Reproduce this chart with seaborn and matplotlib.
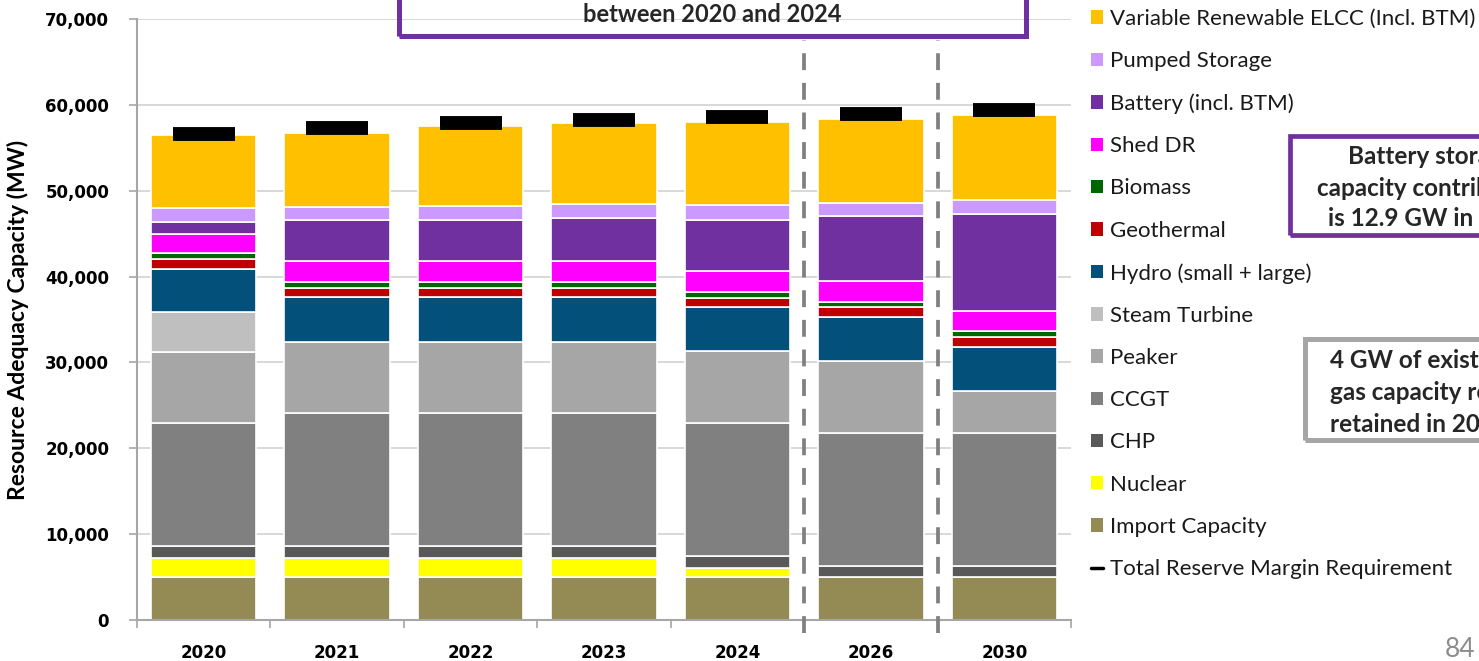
import numpy as np
import pandas as pd
import seaborn as sns
import matplotlib.pyplot as plt
from matplotlib.patches import Patch, Rectangle
from matplotlib.lines import Line2D
from matplotlib.ticker import FuncFormatter, FixedLocator

# resource adequacy capacity by year (MW), bottom of the stack first
years = ["2020", "2021", "2022", "2023", "2024", "2026", "2030"]
import_cap = [5000, 5000, 5000, 5000, 5000, 5000, 5000]
nuclear = [2250, 2250, 2250, 2250, 1090, 0, 0]
chp = [1400, 1400, 1400, 1400, 1400, 1320, 1320]
ccgt = [14250, 15480, 15480, 15480, 15480, 15480, 15480]
peaker = [8330, 8270, 8270, 8270, 8340, 8350, 4860]
steam_turbine = [4600, 0, 0, 0, 0, 0, 0]
hydro = [5080, 5240, 5240, 5240, 5160, 5160, 5150]
geothermal = [1160, 1080, 1080, 1040, 1050, 1090, 1130]
biomass = [620, 620, 620, 660, 660, 620, 700]
shed_dr = [2220, 2450, 2450, 2450, 2440, 2440, 2360]
battery = [1470, 4770, 4850, 5080, 6020, 7570, 11260]
pumped_storage = [1550, 1550, 1560, 1630, 1670, 1590, 1630]
variable_re = [8530, 8620, 9300, 9390, 9690, 9780, 9970]
reserve_req = [56660, 57250, 57830, 58220, 58530, 58920, 59420]

series = [
    ("Import Capacity", import_cap, "#948A54"),
    ("Nuclear", nuclear, "#FFFF00"),
    ("CHP", chp, "#595959"),
    ("CCGT", ccgt, "#808080"),
    ("Peaker", peaker, "#A6A6A6"),
    ("Steam Turbine", steam_turbine, "#BFBFBF"),
    ("Hydro (small + large)", hydro, "#03507A"),
    ("Geothermal", geothermal, "#C00000"),
    ("Biomass", biomass, "#006600"),
    ("Shed DR", shed_dr, "#FF00FF"),
    ("Battery (incl. BTM)", battery, "#7030A0"),
    ("Pumped Storage", pumped_storage, "#CC99FF"),
    ("Variable Renewable ELCC (Incl. BTM)", variable_re, "#FFC000"),
]

sns.set_theme(style="white")
plt.rcParams['font.family'] = ['Lato', 'DejaVu Sans']

W, H = 1479, 661
fig = plt.figure(figsize=(W / 100, H / 100), dpi=100)
ax = fig.add_axes([137 / W, 41 / H, (1071 - 137) / W, (620 - 19) / H])

bottom = np.zeros(len(years))
for name, vals, color in series:
    sns.barplot(x=years, y=vals, bottom=bottom, color=color, saturation=1,
                width=0.79, edgecolor="white", linewidth=1.2, errorbar=None, ax=ax)
    bottom += np.array(vals)

# total reserve margin requirement marks
ax.plot(np.arange(len(years)), reserve_req, ls="none", marker="_", ms=45, mew=10,
        color="black", zorder=5)

# dashed separators
ax.vlines([4.5, 5.5], -1500, 67600, colors="#808080", lw=2.7,
          linestyles=(0, (4.5, 3.4)), clip_on=False, zorder=6)

ax.set_xlim(-0.5, 6.5)
ax.set_ylim(0, 70000)
ax.set_yticks(range(0, 70001, 10000))
ax.yaxis.set_major_formatter(FuncFormatter(lambda v, p: f"{v:,.0f}"))
ax.yaxis.grid(True, color="#D6D6D6", lw=1.3)
ax.set_axisbelow(True)
ax.xaxis.set_minor_locator(FixedLocator(np.arange(-0.5, 7, 1)))
ax.tick_params(axis="x", which="major", length=0, pad=17)
ax.tick_params(axis="x", which="minor", length=6, width=1.2, color="#A6A6A6", direction="out", bottom=True)
ax.tick_params(axis="y", length=6, width=1.2, color="#A6A6A6", direction="out", left=True, pad=14)
for lab in ax.get_xticklabels() + ax.get_yticklabels():
    lab.set_fontfamily("DejaVu Sans")
    lab.set_fontweight("bold")
    lab.set_fontsize(12)
    lab.set_color("black")

for s in ["top", "right"]:
    ax.spines[s].set_visible(False)
for s in ["left", "bottom"]:
    ax.spines[s].set_color("#A6A6A6")
    ax.spines[s].set_linewidth(1.5)

ax.set_xlabel("")
ax.set_ylabel("Resource Adequacy Capacity (MW)", fontsize=16.5, fontweight="bold", color="black")
ax.yaxis.set_label_coords(-0.1156, 0.5)

# legend, top to bottom
handles = [Patch(facecolor=c, edgecolor="none") for _, _, c in series[::-1]]
labels = [n for n, _, _ in series[::-1]]
handles.append(Line2D([], [], color="black", lw=2.5))
labels.append("Total Reserve Margin Requirement")
leg = ax.legend(handles, labels, loc="upper left", bbox_to_anchor=(1091 / W, 1 - 9 / H),
                bbox_transform=fig.transFigure, frameon=False, fontsize=16,
                handlelength=0.55, handleheight=0.55, handletextpad=0.3,
                labelspacing=1.0, borderpad=0, borderaxespad=0)
for t in leg.get_texts():
    t.set_color("#1A1A1A")

# annotation boxes
fig.add_artist(Rectangle((399 / W, 1 - 36 / H), (1026 - 399) / W, 0.2, fill=False,
                         edgecolor="#7030A0", lw=3.6, transform=fig.transFigure))
fig.text(712 / W, 1 - 22.5 / H, "between 2020 and 2024", ha="center", va="baseline",
         fontsize=17, fontweight="bold")

fig.add_artist(Rectangle((1290 / W, 1 - 234.5 / H), 300 / W, 99 / H, fill=False,
                         edgecolor="#7030A0", lw=3.4, transform=fig.transFigure))
for txt, yb in [("Battery storage", 163.5), ("capacity contribution", 195.5), ("is 12.9 GW in 2030", 226.5)]:
    fig.text(1432 / W, 1 - yb / H, txt, ha="center", va="baseline", fontsize=17.5, fontweight="bold")

fig.add_artist(Rectangle((1304.5 / W, 1 - 440 / H), 300 / W, 101 / H, fill=False,
                         edgecolor="#A6A6A6", lw=3.6, transform=fig.transFigure))
for txt, yb in [("4 GW of existing", 368.5), ("gas capacity required to be", 400.5), ("retained in 2030", 431.5)]:
    fig.text(1330 / W, 1 - yb / H, txt, ha="left", va="baseline", fontsize=17.5, fontweight="bold")

fig.text(1475 / W, 1 - 657 / H, "84", ha="right", va="baseline", fontsize=19, color="#8C8C8C")

fig.savefig("out.png", dpi=100)
